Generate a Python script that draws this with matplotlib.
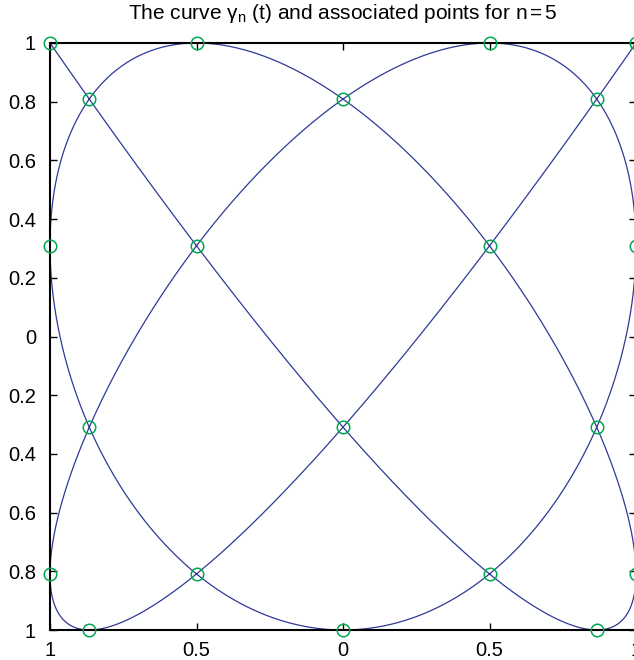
import numpy as np
import matplotlib
matplotlib.use("Agg")
import matplotlib.pyplot as plt

plt.rcParams['font.family'] = ['Liberation Sans', 'DejaVu Sans']
plt.rcParams['mathtext.fontset'] = 'custom'
plt.rcParams['mathtext.rm'] = 'Liberation Sans'
plt.rcParams['mathtext.it'] = 'Liberation Sans:italic'

# degree of the curve
n = 5

# associated points
punten_x = [-1, -0.5, 0.5, 1,
            -0.866, 0, 0.866,
            -1, -0.5, 0.5, 1,
            -0.866, 0, 0.866,
            -1, -0.5, 0.5, 1,
            -0.866, 0, 0.866]
punten_y = [1, 1, 1, 1,
            0.809, 0.809, 0.809,
            0.309, 0.309, 0.309, 0.309,
            -0.309, -0.309, -0.309,
            -0.809, -0.809, -0.809, -0.809,
            -1, -1, -1]

x_ticks = [-1, -0.5, 0, 0.5, 1]
x_labels = ['1', '0.5', '0', '0.5', '1']
y_ticks = [-1, -0.8, -0.6, -0.4, -0.2, 0, 0.2, 0.4, 0.6, 0.8, 1]
y_labels = ['1', '0.8', '0.6', '0.4', '0.2', '0', '0.2', '0.4', '0.6', '0.8', '1']

# de kromme gamma_n(t), t in [0, pi]
t = np.linspace(0, np.pi, 2000)
kromme_x = -np.cos(n * t)
kromme_y = np.cos((n + 1) * t)

fig = plt.figure(figsize=(6.34, 6.6), dpi=100)
ax = fig.add_axes([50 / 634, 30 / 660, 586 / 634, 587 / 660])

ax.plot(kromme_x, kromme_y, color='#2e3a96', linewidth=0.9, clip_on=False)
ax.plot(punten_x, punten_y, linestyle='none', marker='o', markersize=9,
        markerfacecolor='none', markeredgecolor='#00a651', markeredgewidth=1.1,
        clip_on=False, zorder=5)

ax.set_xlim(-1, 1)
ax.set_ylim(-1, 1)
ax.set_xticks(x_ticks)
ax.set_xticklabels(x_labels)
ax.set_yticks(y_ticks)
ax.set_yticklabels(y_labels)
ax.tick_params(direction='in', length=5, width=1, top=True, right=True,
               labelsize=14.5)
ax.tick_params(axis='y', pad=10)
ax.tick_params(axis='x', pad=8)
for spine in ax.spines.values():
    spine.set_linewidth(1.5)

ax.set_title('The curve γ$_{\\mathrm{n}}$ (t) and associated points for n$\\,$=$\\,$5',
             fontsize=15, pad=17)

fig.savefig('out.png', dpi=100)
